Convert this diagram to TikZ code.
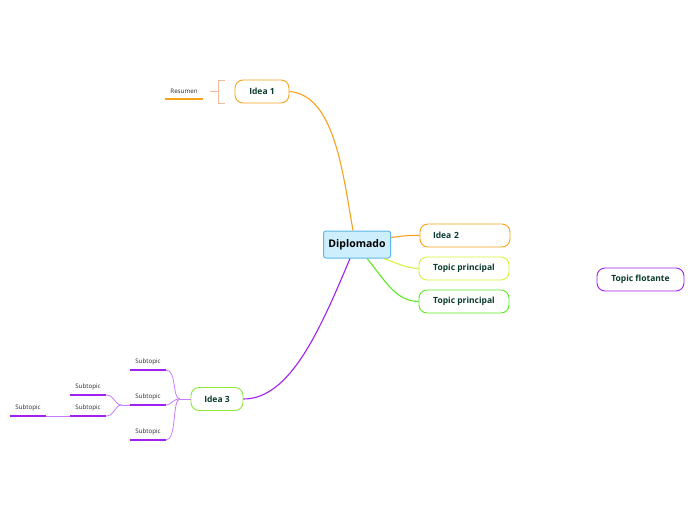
\documentclass[tikz,border=0pt]{standalone}
\usepackage{fontspec}
\setmainfont{Open Sans}
\definecolor{txt}{HTML}{0B3B2E}
\definecolor{orng}{HTML}{F7A21B}
\definecolor{ylw}{HTML}{D6F23C}
\definecolor{grn}{HTML}{5EE81F}
\definecolor{lime}{HTML}{8EE83A}
\definecolor{purp}{HTML}{A020F0}
\definecolor{lpurp}{HTML}{C77DFF}
\definecolor{blueb}{HTML}{5BB8E8}
\definecolor{bluef}{HTML}{CDEEFC}
\definecolor{salmon}{HTML}{F4B89A}
\tikzset{
  pill/.style={draw, line width=0.9pt, fill=white, rounded corners=8pt, minimum height=23pt, inner sep=0pt, font=\fontsize{8.5}{10}\selectfont\bfseries, text=txt},
  central/.style={draw=blueb, fill=bluef, line width=1pt, rounded corners=2.5pt, minimum width=67pt, minimum height=27pt, inner sep=0pt, font=\fontsize{10.5}{12}\selectfont\bfseries, text=black},
  sub/.style={font=\fontsize{6.2}{7}\selectfont, text=black!85, inner sep=0pt},
  subline/.style={draw=purp, line width=1.3pt},
  conn/.style={line width=1.1pt},
}
\begin{document}
\begin{tikzpicture}[x=1pt,y=-1pt]
\useasboundingbox (0,0) rectangle (696,520);
% central
\node[central] (dip) at (357,244.5) {Diplomado};
% main topics
\node[pill, draw=orng, minimum width=54pt] (i1) at (262,91.5) {Idea 1};
\node[pill, draw=orng, minimum width=90pt, text width=64pt, align=left] (i2) at (465,235.5) {Idea 2};
\node[pill, draw=ylw, minimum width=90pt] (t1) at (464,268.5) {Topic principal};
\node[pill, draw=grn, minimum width=90pt] (t2) at (464,301.5) {Topic principal};
\node[pill, draw=purp, minimum width=87pt] (tf) at (640.5,279.5) {Topic flotante};
\node[pill, draw=lime, minimum width=52pt] (i3) at (217,399) {Idea 3};
% connectors from central
\draw[conn, orng] (dip.north) ++(-4,0) coordinate (d1) (d1) .. controls (343,175) and (335,95) .. (i1.east);
\draw[conn, orng] (dip.east) ++(0,-7) coordinate (d2) (d2) .. controls (402,236) and (410,235) .. (i2.west);
\draw[conn, ylw] (dip.south east) ++(-8,0) coordinate (d3) (d3) .. controls (395,262) and (405,268) .. (t1.west);
\draw[conn, grn] (dip.south) ++(10,0) coordinate (d4) (d4) .. controls (385,280) and (395,301) .. (t2.west);
\draw[conn, purp] (dip.south) ++(-7,0) coordinate (d5) (d5) .. controls (320,330) and (290,399) .. (i3.east);
% Resumen
\node[sub] (res) at (184,91) {Resumen};
\coordinate (resR) at (203,99);
\coordinate (resL) at (165,99);
\draw[orng, line width=1.2pt] (resL) -- (resR);
\coordinate (br) at (218,91);
\draw[salmon, line width=1pt] (225,80) -- (218,80) -- (218,103) -- (225,103);
\draw[salmon, line width=1pt] (210,91) -- (br);
% subtopics
\node[sub] (s1) at (148,362) {Subtopic};
\node[sub] (s2) at (148,397) {Subtopic};
\node[sub] (s3) at (148,432) {Subtopic};
\node[sub] (sa) at (88,387) {Subtopic};
\node[sub] (sb) at (88,408) {Subtopic};
\node[sub] (sc) at (28,408) {Subtopic};
\coordinate (s1l) at (130,370); \coordinate (s1r) at (166,370);
\coordinate (s2l) at (130,405); \coordinate (s2r) at (166,405);
\coordinate (s3l) at (130,440); \coordinate (s3r) at (166,440);
\coordinate (sal) at (70,395); \coordinate (sar) at (106,395);
\coordinate (sbl) at (70,416); \coordinate (sbr) at (106,416);
\coordinate (scl) at (10,416); \coordinate (scr) at (46,416);
\foreach \a/\b in {s1l/s1r,s2l/s2r,s3l/s3r,sal/sar,sbl/sbr,scl/scr}{\draw[subline] (\a) -- (\b);}
\coordinate (hub) at (180,399);
\draw[lpurp, line width=0.8pt] (i3.west) -- (hub);
\draw[lpurp, line width=0.8pt] (hub) .. controls (172,399) and (177,370) .. (s1r);
\draw[lpurp, line width=0.8pt] (hub) .. controls (172,399) and (172,405) .. (s2r);
\draw[lpurp, line width=0.8pt] (hub) .. controls (172,399) and (177,440) .. (s3r);
\coordinate (hub2) at (122,405);
\draw[lpurp, line width=0.8pt] (s2l) -- (hub2);
\draw[lpurp, line width=0.8pt] (hub2) .. controls (114,405) and (115,395) .. (sar);
\draw[lpurp, line width=0.8pt] (hub2) .. controls (114,405) and (115,416) .. (sbr);
\draw[lpurp, line width=0.8pt] (sbl) -- (scr);
\end{tikzpicture}
\end{document}
